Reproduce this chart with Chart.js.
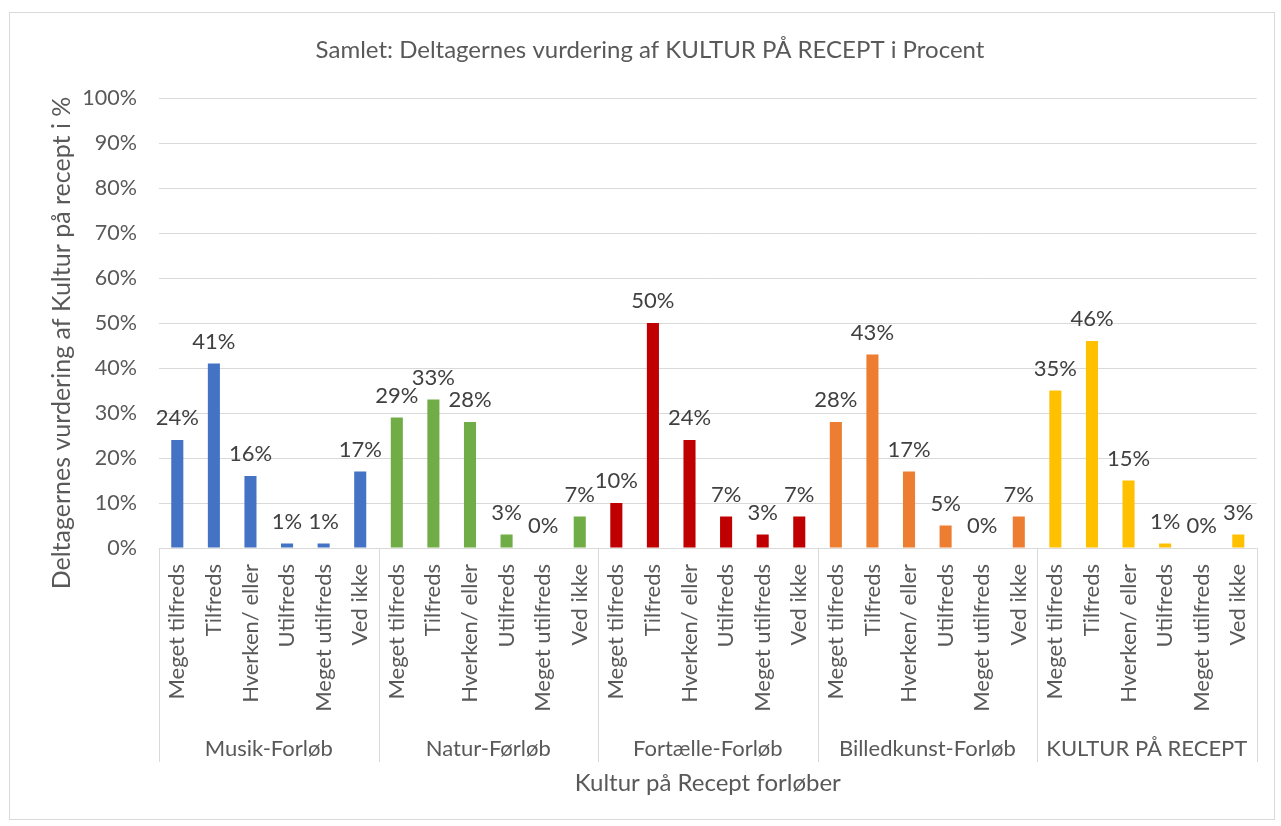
<!DOCTYPE html>
<html>
<head>
<meta charset="utf-8">
<script src="https://cdn.jsdelivr.net/npm/chart.js@4"></script>
<style>
  body { margin: 0; background: #fff; }
  #wrap { width: 1281px; height: 826px; }
</style>
</head>
<body>
<div id="wrap"><canvas id="chart" width="1281" height="826"></canvas></div>
<script>
const groups = ["Musik-Forløb", "Natur-Førløb", "Fortælle-Forløb", "Billedkunst-Forløb", "KULTUR PÅ RECEPT"];
const answers = ["Meget tilfreds", "Tilfreds", "Hverken/ eller", "Utilfreds", "Meget utilfreds", "Ved ikke"];

// percent per answer, one list per forløb
const musik = [24, 41, 16, 1, 1, 17];
const natur = [29, 33, 28, 3, 0, 7];
const fortaelle = [10, 50, 24, 7, 3, 7];
const billedkunst = [28, 43, 17, 5, 0, 7];
const kultur = [35, 46, 15, 1, 0, 3];

const groupColors = ["#4472C4", "#70AD47", "#C00000", "#ED7D31", "#FFC000"];
const yTicks = [0, 10, 20, 30, 40, 50, 60, 70, 80, 90, 100];

const series = [musik, natur, fortaelle, billedkunst, kultur];
const labels = [];
const values = [];
const colors = [];
series.forEach((vals, g) => {
  vals.forEach((v, i) => {
    labels.push(answers[i]);
    values.push(v);
    colors.push(groupColors[g]);
  });
});

const FONT = "Lato";
const grey = "#595959";
const chartTitle = "Samlet: Deltagernes vurdering af KULTUR PÅ RECEPT i Procent";
const yTitle = "Deltagernes vurdering af Kultur på recept i %";

// border, titles, data labels, group separators and group names
const excelBits = {
  id: "excelBits",
  beforeDraw(chart) {
    const c = chart.ctx;
    c.save();
    c.strokeStyle = "#d9d9d9";
    c.lineWidth = 1;
    c.strokeRect(9.5, 12.5, 1265, 807);
    c.fillStyle = grey;
    c.textAlign = "center";
    c.textBaseline = "middle";
    c.font = "24px " + FONT;
    c.fillText(chartTitle, 650, 50);
    // y axis title, Excel centres it a bit lower than the plot
    c.font = "25px " + FONT;
    c.translate(62, 343);
    c.rotate(-Math.PI / 2);
    c.fillText(yTitle, 0, 0);
    c.restore();
  },
  afterDatasetsDraw(chart) {
    const c = chart.ctx;
    const meta = chart.getDatasetMeta(0);
    c.save();
    c.font = "22px " + FONT;
    c.fillStyle = "#404040";
    c.textAlign = "center";
    c.textBaseline = "bottom";
    meta.data.forEach((bar, i) => {
      c.fillText(values[i] + "%", bar.x, bar.y - 11);
    });

    const x = chart.scales.x;
    const base = chart.chartArea.bottom;
    const per = answers.length;
    c.strokeStyle = "#d9d9d9";
    c.lineWidth = 1;
    c.beginPath();
    c.moveTo(chart.chartArea.left, base + 0.5);
    c.lineTo(chart.chartArea.right, base + 0.5);
    for (let g = 0; g <= groups.length; g++) {
      let px;
      if (g === 0) px = chart.chartArea.left;
      else if (g === groups.length) px = chart.chartArea.right;
      else px = (x.getPixelForValue(g * per - 1) + x.getPixelForValue(g * per)) / 2;
      px = Math.round(px) + 0.5;
      c.moveTo(px, base);
      c.lineTo(px, base + 214);
    }
    c.stroke();

    c.fillStyle = grey;
    c.textBaseline = "middle";
    groups.forEach((name, g) => {
      const cx = (x.getPixelForValue(g * per) + x.getPixelForValue(g * per + per - 1)) / 2;
      c.fillText(name, cx, base + 201);
    });
    c.restore();
  }
};

new Chart(document.getElementById("chart"), {
  type: "bar",
  data: {
    labels: labels,
    datasets: [{
      data: values,
      backgroundColor: colors,
      categoryPercentage: 1,
      barPercentage: 0.33
    }]
  },
  options: {
    responsive: false,
    animation: false,
    layout: { padding: { top: 98, left: 12, right: 18, bottom: 26 } },
    plugins: {
      legend: { display: false },
      tooltip: { enabled: false },
      title: { display: false }
    },
    scales: {
      x: {
        grid: { display: false, drawTicks: false },
        border: { display: false },
        ticks: {
          color: grey,
          font: { family: FONT, size: 22 },
          minRotation: 90,
          maxRotation: 90,
          autoSkip: false,
          padding: 16
        },
        title: {
          display: true,
          text: "Kultur på Recept forløber",
          color: grey,
          font: { family: FONT, size: 24 },
          padding: { top: 4, bottom: 2 }
        },
        afterFit(scale) { scale.height = 252; }
      },
      y: {
        min: 0,
        max: 100,
        afterBuildTicks(scale) { scale.ticks = yTicks.map(v => ({ value: v })); },
        grid: { color: "#d9d9d9", drawTicks: false },
        border: { display: false },
        ticks: {
          color: grey,
          font: { family: FONT, size: 21.5 },
          padding: 22,
          callback: v => v + "%"
        },
        afterFit(scale) { scale.width = 147; }
      }
    }
  },
  plugins: [excelBits]
});
</script>
</body>
</html>
